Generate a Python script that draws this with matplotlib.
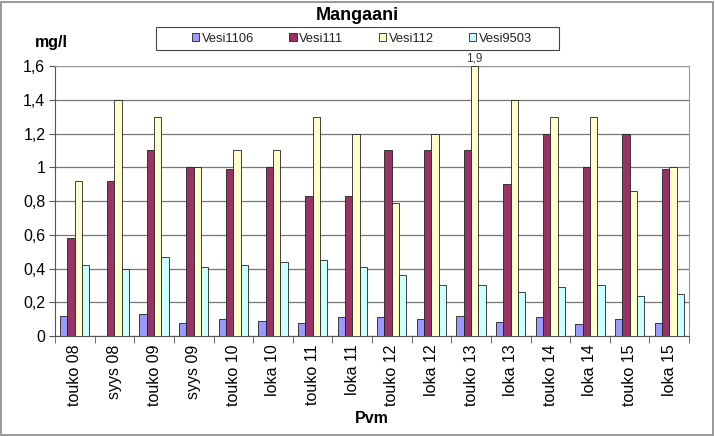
import matplotlib
matplotlib.use("Agg")
import matplotlib.pyplot as plt
import numpy as np
from matplotlib.patches import Rectangle

plt.rcParams['font.family'] = ['Liberation Sans', 'DejaVu Sans']

categories = ["touko 08", "syys 08", "touko 09", "syys 09", "touko 10", "loka 10",
              "touko 11", "loka 11", "touko 12", "loka 12", "touko 13", "loka 13",
              "touko 14", "loka 14", "touko 15", "loka 15"]
vesi1106 = [0.12, 0.0, 0.13, 0.08, 0.10, 0.09, 0.075, 0.115, 0.115, 0.10, 0.12, 0.085, 0.115, 0.07, 0.10, 0.08]
vesi111 = [0.58, 0.92, 1.10, 1.00, 0.99, 1.00, 0.83, 0.83, 1.10, 1.10, 1.10, 0.90, 1.20, 1.00, 1.20, 0.99]
vesi112 = [0.92, 1.40, 1.30, 1.00, 1.10, 1.10, 1.30, 1.20, 0.79, 1.20, 1.90, 1.40, 1.30, 1.30, 0.86, 1.00]
vesi9503 = [0.42, 0.40, 0.47, 0.41, 0.42, 0.44, 0.45, 0.41, 0.36, 0.30, 0.30, 0.26, 0.29, 0.30, 0.24, 0.25]
series = [("Vesi1106", vesi1106, "#9999FF"), ("Vesi111", vesi111, "#993366"),
          ("Vesi112", vesi112, "#FFFFCC"), ("Vesi9503", vesi9503, "#CCFFFF")]
yticks = [0, 0.2, 0.4, 0.6, 0.8, 1.0, 1.2, 1.4, 1.6]
ymax = 1.6

W, H = 715, 436
fig = plt.figure(figsize=(W/100, H/100), dpi=100)
fig.patch.set_facecolor("white")
fig.add_artist(Rectangle((1/W, 1/H), 1-3/W, 1-3/H, transform=fig.transFigure,
                         fill=False, edgecolor="#888888", linewidth=1.2))

ax = fig.add_axes([55/W, 1-336/H, (689-55)/W, (336-66)/H])
x = np.arange(len(categories))
bw = 0.185
offs = [-1.5, -0.5, 0.5, 1.5]
handles = []
for (name, vals, col), o in zip(series, offs):
    clipped = [min(v, ymax) for v in vals]
    b = ax.bar(x + o*bw, clipped, bw, color=col, edgecolor="#222222", linewidth=0.6,
               label=name, zorder=3)
    handles.append(b)
    for xi, v in zip(x, vals):
        if v > ymax:
            ax.text(xi + o*bw, ymax + 0.01, f"{v:.1f}".replace(".", ","), ha="center",
                    va="bottom", fontsize=8.5, color="#333333", clip_on=False)

ax.set_xlim(-0.5, len(categories) - 0.5)
ax.set_ylim(0, ymax)
ax.set_yticks(yticks)
ax.set_yticklabels([f"{t:g}".replace(".", ",") for t in yticks], fontsize=11.5)
ax.set_xticks(x)
ax.set_xticklabels(categories, rotation=90, fontsize=11.5)
ax.tick_params(axis="x", length=0, pad=6)
ax.set_xticks(np.arange(-0.5, len(categories)), minor=True)
ax.tick_params(axis="x", which="minor", length=5, color="#555555")
ax.tick_params(axis="y", length=4, color="#555555", pad=3)
ax.grid(axis="y", color="#777777", linewidth=0.9, zorder=0)
for s in ["top", "right"]:
    ax.spines[s].set_color("#999999")
for s in ["left", "bottom"]:
    ax.spines[s].set_color("#555555")

fig.text(0.5, 1-16/H, "Mangaani", ha="center", va="center", fontsize=13, fontweight="bold")
fig.text(35/W, 1-42/H, "mg/l", ha="left", va="center", fontsize=11.5, fontweight="bold")
fig.text(372/W, 1-418/H, "Pvm", ha="center", va="center", fontsize=11.5, fontweight="bold")

fig.add_artist(Rectangle((156/W, 1-50/H), (559-156)/W, (50-27)/H, transform=fig.transFigure,
                         fill=False, edgecolor="#444444", linewidth=0.8))
leg = fig.legend(handles=handles, loc="center left", bbox_to_anchor=(192/W, 1-38.5/H), ncol=4,
                 fontsize=9.3, frameon=False,
                 handlelength=0.55, handleheight=0.55, handletextpad=0.2, columnspacing=2.75,
                 borderpad=0.0, borderaxespad=0)
for t in leg.get_texts():
    t.set_color("#222222")

fig.savefig("out.png", dpi=100, facecolor="white")
